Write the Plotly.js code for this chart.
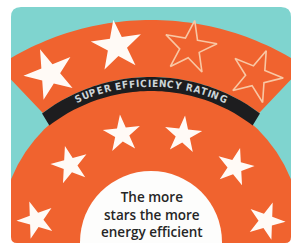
<!DOCTYPE html>
<html><head><meta charset="utf-8">
<script src="https://cdn.plot.ly/plotly-3.0.1.min.js"></script>
<style>html,body{margin:0;padding:0;background:#fff}#chart{width:295px;height:247px}</style>
</head><body><div id="chart"></div>
<script>
// ---- data ----
const superStarX = [50, 117, 190, 256];
const superStarY = [74, 46, 47.5, 76];
const superStarFilled = [true, true, false, false];
const starX = [122, 183, 70, 235, 36, 266];
const starY = [134, 135, 165, 167, 220, 221];
const bandLabel = "SUPER EFFICIENCY RATING";
const domeLines = ["The more", "stars the more", "energy efficient"];

// ---- geometry helpers ----
const CX = 151;
function arcPts(cx, cy, R, a0, a1, n) {
  const pts = [];
  for (let i = 0; i <= n; i++) {
    const a = (a0 + (a1 - a0) * i / n) * Math.PI / 180;
    pts.push([cx + R * Math.sin(a), cy - R * Math.cos(a)]);
  }
  return pts;
}
function toPath(pts) {
  return 'M ' + pts.map(p => p[0].toFixed(2) + ',' + p[1].toFixed(2)).join(' L ') + ' Z';
}
const ORANGE = '#f0632f', TEAL = '#7fd4cf', BAND = '#1d1d1f';

// upper orange band
const upperPts = arcPts(CX, 297, 277, -33.5, 33.5, 60)
  .concat(arcPts(CX, 258, 181, 36.7, -36.7, 60));
// black band
const bandPts = arcPts(CX, 258, 181, -37, 37, 60).concat(arcPts(CX, 258, 167, 37.5, -37.5, 60));

const shapes = [
  {type: 'path', path: toPath(upperPts), fillcolor: ORANGE, line: {width: 0}, layer: 'below'},
  {type: 'circle', x0: CX - 151, x1: CX + 151, y0: 236 - 151, y1: 236 + 151, fillcolor: ORANGE, line: {width: 0}, layer: 'below'},
  {type: 'path', path: toPath(bandPts), fillcolor: BAND, line: {width: 0}, layer: 'below'},
  {type: 'circle', x0: CX - 71, x1: CX + 71, y0: 242 - 71, y1: 242 + 71, fillcolor: '#fdfdfc', line: {width: 0}, layer: 'below'},
  {type: 'path', fillrule: 'evenodd',
   path: 'M -20,-20 L 315,-20 L 315,267 L -20,267 Z M 21,7 L 281,7 Q 291,7 291,17 L 291,237 Q 291,243 285,243 L 17,243 Q 11,243 11,237 L 11,17 Q 11,7 21,7 Z',
   fillcolor: '#ffffff', line: {width: 0}, layer: 'above'}
];

// curved band label
const annotations = [];
const fontSize = 10;
const bandFont = '"Liberation Sans Narrow", "DejaVu Sans Condensed", "Open Sans", sans-serif';
const ctx = document.createElement('canvas').getContext('2d');
ctx.font = 'bold ' + fontSize + 'px ' + bandFont;
const widths = bandLabel.split('').map(c => ctx.measureText(c).width);
const natural = widths.reduce((a, b) => a + b, 0);
const targetLen = 156;
const extra = (targetLen - natural) / (bandLabel.length - 1);
const Rtxt = 175;
let s = -targetLen / 2;
bandLabel.split('').forEach((c, i) => {
  const mid = s + widths[i] / 2;
  const a = mid / Rtxt;
  s += widths[i] + extra;
  if (c === ' ') return;
  annotations.push({
    x: CX + Rtxt * Math.sin(a), y: 258 - Rtxt * Math.cos(a), xref: 'x', yref: 'y',
    text: c, showarrow: false, xanchor: 'center', yanchor: 'middle',
    textangle: a * 180 / Math.PI,
    font: {family: bandFont, size: fontSize, color: '#cdd5d8', weight: 700}
  });
});
annotations.push({
  x: 152, y: 214.5, xref: 'x', yref: 'y', text: domeLines.join('<br>'), showarrow: false,
  xanchor: 'center', yanchor: 'middle', align: 'center', borderpad: 0,
  font: {family: 'Open Sans', size: 13.5, color: '#262626', weight: 600}
});

const filledIdx = superStarFilled.map((f, i) => f ? i : -1).filter(i => i >= 0);
const openIdx = superStarFilled.map((f, i) => !f ? i : -1).filter(i => i >= 0);
const superAngles = [-22, -8, 10, 22];

const traces = [
  {type: 'scatter', mode: 'markers', hoverinfo: 'skip',
   x: filledIdx.map(i => superStarX[i]), y: filledIdx.map(i => superStarY[i]),
   marker: {symbol: 'star', size: 38, color: '#fffaf6', angle: filledIdx.map(i => superAngles[i]), line: {width: 0}}},
  {type: 'scatter', mode: 'markers', hoverinfo: 'skip',
   x: openIdx.map(i => superStarX[i]), y: openIdx.map(i => superStarY[i]),
   marker: {symbol: 'star-open', size: 39, color: '#f8c7a4', angle: openIdx.map(i => superAngles[i]), line: {width: 1.6, color: '#f8c7a4'}}},
  {type: 'scatter', mode: 'markers', hoverinfo: 'skip',
   x: starX, y: starY,
   marker: {symbol: 'star', size: 28, color: '#fffaf6', angle: [-6, 6, -15, 15, -20, 20], line: {width: 0}}}
];

const layout = {
  width: 295, height: 247, margin: {l: 0, r: 0, t: 0, b: 0},
  paper_bgcolor: '#ffffff', plot_bgcolor: TEAL, showlegend: false,
  xaxis: {range: [0, 295], visible: false, fixedrange: true},
  yaxis: {range: [247, 0], visible: false, fixedrange: true},
  shapes: shapes, annotations: annotations
};
Plotly.newPlot('chart', traces, layout, {staticPlot: true, displayModeBar: false});
</script></body></html>
